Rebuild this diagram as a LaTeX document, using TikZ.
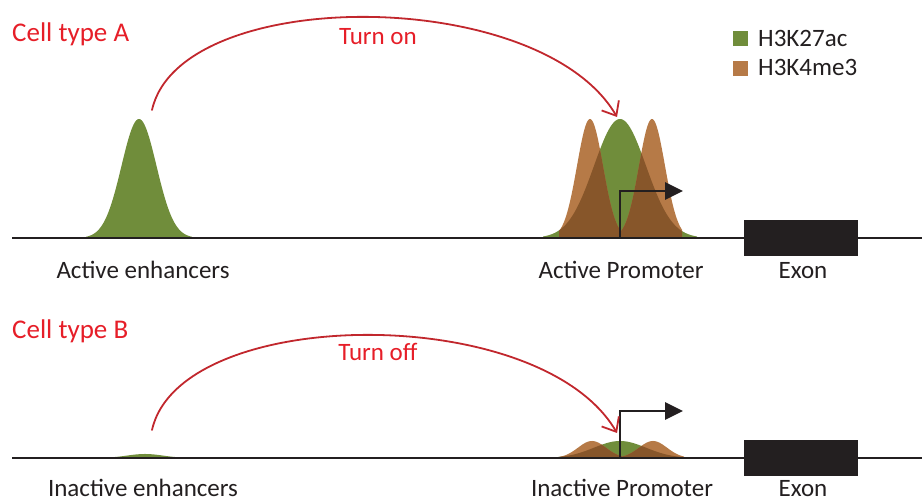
\documentclass[tikz,border=0pt]{standalone}
\usepackage{fontspec}
\setmainfont{Carlito}
\usetikzlibrary{arrows.meta}
\definecolor{acgreen}{HTML}{708D3B}
\definecolor{mebrown}{HTML}{B67A47}
\definecolor{darkbrown}{HTML}{87562A}
\definecolor{ink}{HTML}{231F20}
\definecolor{arcred}{HTML}{C1272D}
\definecolor{titlered}{HTML}{E61E28}
\begin{document}
\begin{tikzpicture}[x=1pt,y=-1pt,
  % bump={start}{end}{base y}{height}{centre}{sigma}
  bump/.style n args={6}{insert path={(#1,#3) -- plot[domain=#1:#2,samples=90]
      (\x,{#3-#4*exp(-((\x-#5)*(\x-#5))/(2*#6*#6))}) -- (#2,#3) -- cycle}},
  dna/.style={draw=ink,line width=2.4pt},
  exon/.style={fill=ink,draw=none,minimum width=114pt,minimum height=36pt,inner sep=0pt},
  tss/.style={draw=ink,line width=2.7pt,-{Triangle[length=18pt,width=17pt]}},
  loop/.style={draw=arcred,line width=1.8pt,line cap=round,
    -{Straight Barb[length=12pt,width=20pt,line width=1.8pt]}},
  label/.style={text=ink,font=\fontsize{25}{30}\selectfont,anchor=base,inner sep=0pt},
  title/.style={text=titlered,font=\fontsize{27}{32}\selectfont,anchor=base west,inner sep=0pt},
  note/.style={text=titlered,font=\fontsize{25}{30}\selectfont,anchor=base,inner sep=0pt},
  key/.style={minimum size=15pt,inner sep=0pt,draw=none},
]
\useasboundingbox (0,0) rectangle (922,502);

% ---------------- cell type A ----------------
% enhancer signal
\fill[acgreen] [bump={86}{192}{238}{119}{139}{17.5}];
% promoter signals
\fill[acgreen] [bump={543}{697}{238}{119}{620}{26}];
\fill[mebrown] [bump={559}{620}{238}{119}{590}{13}];
\fill[mebrown] [bump={621}{682}{238}{119}{652}{13}];
\begin{scope}
  \clip [bump={543}{697}{238}{119}{620}{26}];
  \fill[darkbrown] [bump={559}{620}{238}{119}{590}{13}];
  \fill[darkbrown] [bump={621}{682}{238}{119}{652}{13}];
\end{scope}

\coordinate (lineAl) at (12,238);
\coordinate (lineAr) at (922,238);
\draw[dna] (lineAl) -- (lineAr);
\node[exon] (exonA) at (801,238) {};

\coordinate (tssA) at (620,238);
\coordinate (tssAend) at (683,191);
\draw[tss] (tssA) |- (tssAend);

\coordinate (srcA) at (152,110);
\coordinate (tipA) at (617,117);
\draw[loop] (srcA) .. controls +(28,-125) and +(-77,-132) .. (tipA);

\node[title] (cellA) at (12,42) {Cell type A};
\node[note] (turnon) at (378,45) {Turn on};
\node[label] (enhA) at (143,279) {Active enhancers};
\node[label] (promA) at (621,279) {Active Promoter};
\node[label] (exA) at (803,279) {Exon};

% legend
\node[key,fill=acgreen] (k1) at (740,39) {};
\node[key,fill=mebrown] (k2) at (740,69) {};
\node[label,anchor=base west] (k1t) at (758,47) {H3K27ac};
\node[label,anchor=base west] (k2t) at (758,76) {H3K4me3};

% ---------------- cell type B ----------------
\fill[acgreen] [bump={95}{195}{458}{4}{145}{18}];
\fill[acgreen] [bump={543}{697}{458}{17}{620}{26}];
\fill[mebrown] [bump={559}{622}{458}{17}{592}{14}];
\fill[mebrown] [bump={622}{684}{458}{17}{653}{14}];
\begin{scope}
  \clip [bump={543}{697}{458}{17}{620}{26}];
  \fill[darkbrown] [bump={559}{622}{458}{17}{592}{14}];
  \fill[darkbrown] [bump={622}{684}{458}{17}{653}{14}];
\end{scope}

\coordinate (lineBl) at (12,458);
\coordinate (lineBr) at (922,458);
\draw[dna] (lineBl) -- (lineBr);
\node[exon] (exonB) at (801,458.5) {};

\coordinate (tssB) at (620,458);
\coordinate (tssBend) at (683,411);
\draw[tss] (tssB) |- (tssBend);

\coordinate (srcB) at (152,430);
\coordinate (tipB) at (617,433);
\draw[loop] (srcB) .. controls +(28,-125) and +(-77,-132) .. (tipB);

\node[title] (cellB) at (12,339) {Cell type B};
\node[note] (turnoff) at (378,361) {Turn off};
\node[label] (enhB) at (143,497) {Inactive enhancers};
\node[label] (promB) at (622,497) {Inactive Promoter};
\node[label] (exB) at (803,497) {Exon};
\end{tikzpicture}
\end{document}
